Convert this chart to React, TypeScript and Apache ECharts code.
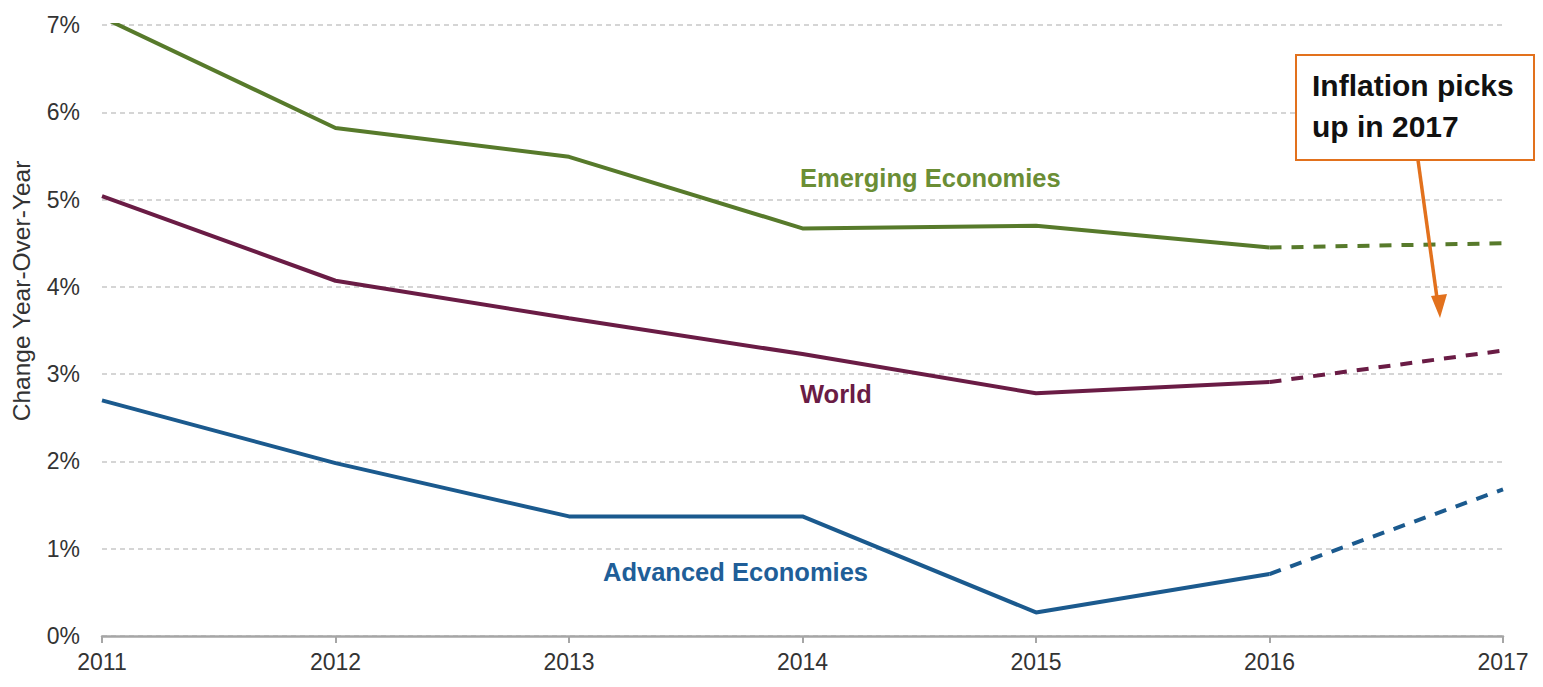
import React, { useEffect, useRef } from "react";
import * as echarts from "echarts";

const years = ["2011", "2012", "2013", "2014", "2015", "2016", "2017"];
const emerging = [7.09, 5.82, 5.49, 4.67, 4.7, 4.45, 4.5];
const world = [5.04, 4.07, 3.64, 3.23, 2.78, 2.91, 3.27];
const advanced = [2.7, 1.98, 1.37, 1.37, 0.27, 0.71, 1.68];
const yTicks = [0, 1, 2, 3, 4, 5, 6, 7];

const GREEN = "#577a2b";
const MAROON = "#6a1c45";
const BLUE = "#1b5a8e";
const ORANGE = "#e2711d";
const FONT = "'Liberation Sans Narrow', 'Liberation Sans', Arial, sans-serif";
const AXFONT = "'Liberation Sans', Arial, sans-serif";

const solid = (arr: number[]) => arr.map((v, i) => (i <= 5 ? v : null));
const dashed = (arr: number[]) => arr.map((v, i) => (i >= 5 ? v : null));

export default function App() {
  const ref = useRef<HTMLDivElement>(null);
  useEffect(() => {
    document.body.style.margin = "0";
    const chart = echarts.init(ref.current!, undefined, { renderer: "svg" });
    const mk = (name: string, data: (number | null)[], color: string, type: "solid" | "dashed") => ({
      name,
      type: "line",
      data,
      symbol: "none",
      connectNulls: false,
      lineStyle: { color, width: 4, type: type === "dashed" ? [12, 10] : "solid" },
      z: 3,
    });
    chart.setOption({
      animation: false,
      grid: { left: 102, right: 40, top: 25, bottom: 51, containLabel: false, outerBoundsMode: "none" },
      xAxis: {
        type: "category",
        data: years,
        boundaryGap: false,
        axisLine: { lineStyle: { color: "#a6a6a6", width: 2.5 } },
        axisTick: { show: true, length: 7, lineStyle: { color: "#a6a6a6", width: 2 } },
        axisLabel: { color: "#333", fontSize: 23, fontFamily: AXFONT, margin: 14, hideOverlap: false },
        splitLine: { show: false },
      },
      yAxis: {
        type: "value",
        min: 0,
        max: 7,
        interval: 1,
        axisLine: { show: false },
        axisTick: { show: false },
        axisLabel: {
          color: "#333",
          fontSize: 23,
          fontFamily: AXFONT,
          margin: 22,
          formatter: (v: number) => (yTicks.includes(v) ? v + "%" : ""),
        },
        splitLine: { lineStyle: { color: "#c8c8c8", type: [5, 4], width: 1.5 } },
      },
      series: [
        mk("Emerging Economies", solid(emerging), GREEN, "solid"),
        mk("Emerging Economies proj", dashed(emerging), GREEN, "dashed"),
        mk("World", solid(world), MAROON, "solid"),
        mk("World proj", dashed(world), MAROON, "dashed"),
        mk("Advanced Economies", solid(advanced), BLUE, "solid"),
        mk("Advanced Economies proj", dashed(advanced), BLUE, "dashed"),
      ],
      graphic: [
        {
          type: "text",
          x: 21,
          y: 291,
          rotation: Math.PI / 2,
          style: {
            text: "Change Year-Over-Year",
            fill: "#333",
            font: `24.5px ${AXFONT}`,
            align: "center",
            verticalAlign: "middle",
          },
        },
        {
          type: "text",
          left: 800,
          top: 165,
          style: { text: "Emerging Economies", fill: "#6b8e35", font: `bold 25.5px ${FONT}` },
        },
        {
          type: "text",
          left: 800,
          top: 381,
          style: { text: "World", fill: MAROON, font: `bold 25.5px ${FONT}` },
        },
        {
          type: "text",
          left: 603,
          top: 559,
          style: { text: "Advanced Economies", fill: "#205e98", font: `bold 25.5px ${FONT}` },
        },
        {
          type: "rect",
          shape: { x: 1296, y: 55, width: 238, height: 105 },
          style: { fill: "#fff", stroke: ORANGE, lineWidth: 2 },
          z: 10,
        },
        {
          type: "text",
          x: 1312,
          y: 65,
          z: 11,
          style: {
            text: "Inflation picks\nup in 2017",
            fill: "#111",
            font: `bold 30px ${FONT}`,
            lineHeight: 41,
          },
        },
        {
          type: "line",
          shape: { x1: 1418, y1: 160, x2: 1437, y2: 298 },
          style: { stroke: ORANGE, lineWidth: 3.5 },
          z: 10,
        },
        {
          type: "polygon",
          shape: { points: [[1431, 296], [1447, 294], [1440, 318]] },
          style: { fill: ORANGE },
          z: 10,
        },
      ],
    });
    return () => chart.dispose();
  }, []);
  return <div ref={ref} style={{ position: "fixed", left: 0, top: 0, width: 1543, height: 687, background: "#fff" }} />;
}
